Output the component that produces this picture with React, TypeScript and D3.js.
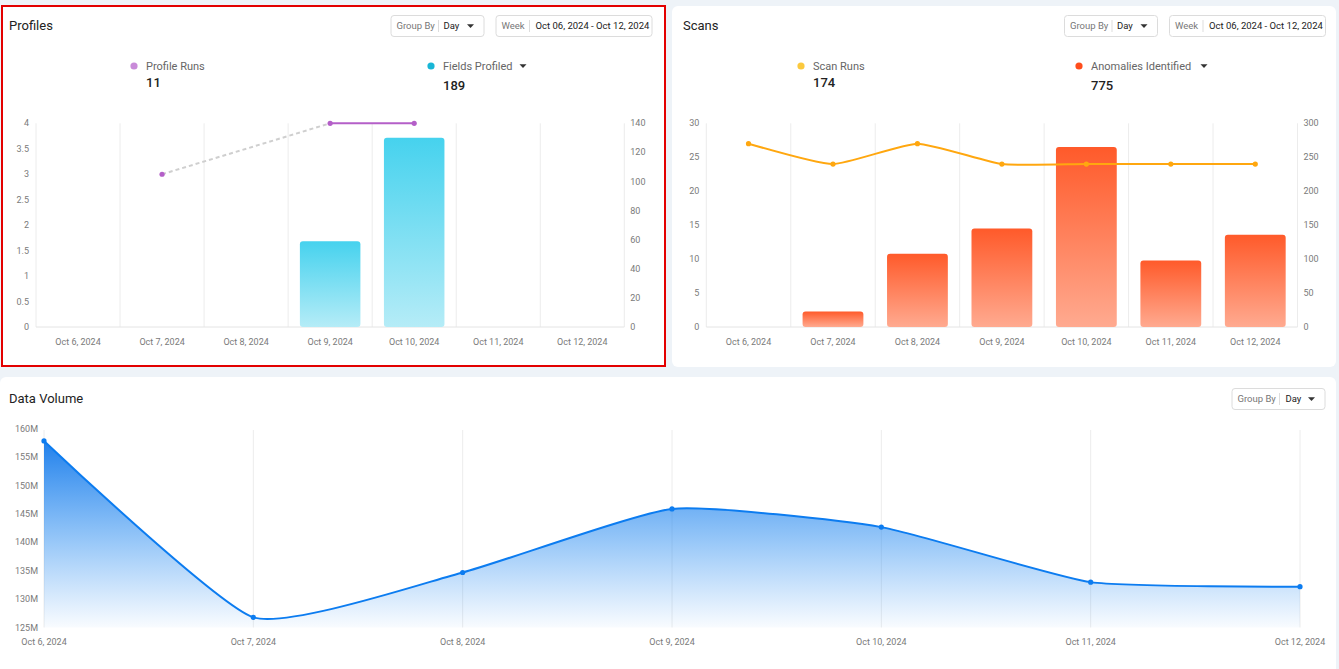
import React from "react";
import * as d3 from "d3";

const categories = ["Oct 6, 2024", "Oct 7, 2024", "Oct 8, 2024", "Oct 9, 2024", "Oct 10, 2024", "Oct 11, 2024", "Oct 12, 2024"];
const profileRuns: (number | null)[] = [null, 3, null, 4, 4, null, null];
const fieldsProfiled = [0, 0, 0, 59, 130, 0, 0];
const scanRuns = [27, 24, 27, 24, 24, 24, 24];
const anomalies = [0, 23, 108, 145, 265, 98, 136];
const dataVolumeM = [157.9, 126.8, 134.7, 145.9, 142.7, 133.0, 132.2];
const profilesTotals = { runs: "11", fields: "189" };
const scansTotals = { runs: "174", anomalies: "775" };
const weekLabel = "Oct 06, 2024 - Oct 12, 2024";

const FONT = "Roboto, 'Noto Sans', sans-serif";
const AXIS_COLOR = "#7a7a7a";
const GRID = "#ececec";

function Caret({ x, y }: { x: number; y: number }) {
  return <path d={`M${x - 3.5},${y - 1.8}L${x + 3.5},${y - 1.8}L${x},${y + 2}Z`} fill="#333" />;
}

function Controls({ x, y, week }: { x: number; y: number; week: boolean }) {
  return (
    <g transform={`translate(${x},${y})`}>
      <rect x={0.5} y={0.5} width={93} height={21} rx={3} fill="#fff" stroke="#dcdcdc" />
      <text x={6} y={14} fontSize={9.5} fill="#777">Group By</text>
      <line x1={48} x2={48} y1={5} y2={17} stroke="#ddd" />
      <text x={53} y={14} fontSize={9.5} fill="#222">Day</text>
      <Caret x={80} y={11} />
      {week && (
        <g transform="translate(105,0)">
          <rect x={0.5} y={0.5} width={156} height={21} rx={3} fill="#fff" stroke="#dcdcdc" />
          <text x={6} y={14} fontSize={9.5} fill="#777">Week</text>
          <line x1={34} x2={34} y1={5} y2={17} stroke="#ddd" />
          <text x={40} y={14} fontSize={9.5} fill="#222">{weekLabel}</text>
        </g>
      )}
    </g>
  );
}

function LegendItem({ x, label, value, color, caretX, valueY }: { x: number; label: string; value: string; color: string; caretX?: number; valueY: number }) {
  return (
    <g>
      <circle cx={x - 12} cy={66} r={3.6} fill={color} />
      <text x={x} y={70} fontSize={11} fill="#666">{label}</text>
      {caretX != null && <Caret x={caretX} y={66} />}
      <text x={x} y={valueY} fontSize={13} fill="#222" fontWeight={500}>{value}</text>
    </g>
  );
}

type ComboProps = {
  x0: number; x1: number; yTop: number; yBot: number;
  leftMax: number; leftStep: number; rightMax: number; rightStep: number;
  bars: number[]; gradId: string; gradTop: string; gradBot: string;
  line: (number | null)[]; lineColor: string; dotColor: string; dashGaps?: boolean;
};

function ComboChart(p: ComboProps) {
  const xs = d3.scaleBand<string>().domain(categories).range([p.x0, p.x1]).padding(0);
  const bw = xs.bandwidth();
  const yL = d3.scaleLinear().domain([0, p.leftMax]).range([p.yBot, p.yTop]);
  const yR = d3.scaleLinear().domain([0, p.rightMax]).range([p.yBot, p.yTop]);
  const leftTicks = d3.range(0, p.leftMax + 1e-9, p.leftStep);
  const rightTicks = d3.range(0, p.rightMax + 1e-9, p.rightStep);
  const cx = (i: number) => (xs(categories[i]) as number) + bw / 2;
  const barW = bw * 0.72;

  const pts = p.line.map((v, i) => ({ v, i })).filter((d) => d.v != null) as { v: number; i: number }[];
  const lineGen = d3.line<{ v: number; i: number }>().x((d) => cx(d.i)).y((d) => yL(d.v));
  const segs: JSX.Element[] = [];
  if (p.dashGaps) {
    for (let k = 0; k < pts.length - 1; k++) {
      const a = pts[k], b = pts[k + 1];
      const gap = b.i - a.i > 1;
      segs.push(
        <path key={k} d={lineGen([a, b]) as string} fill="none"
          stroke={gap ? "#cfcfcf" : p.lineColor} strokeWidth={2} strokeDasharray={gap ? "4 3" : undefined} />
      );
    }
  } else {
    const smooth = d3.line<{ v: number; i: number }>().x((d) => cx(d.i)).y((d) => yL(d.v)).curve(d3.curveCardinal.tension(0.5));
    segs.push(<path key="l" d={smooth(pts) as string} fill="none" stroke={p.lineColor} strokeWidth={2} />);
  }

  return (
    <g>
      <defs>
        <linearGradient id={p.gradId} x1="0" y1="0" x2="0" y2="1">
          <stop offset="0" stopColor={p.gradTop} />
          <stop offset="1" stopColor={p.gradBot} />
        </linearGradient>
      </defs>
      {categories.slice(1).map((c) => (
        <line key={c} x1={xs(c)} x2={xs(c)} y1={p.yTop} y2={p.yBot} stroke={GRID} />
      ))}
      <line x1={p.x0} x2={p.x0} y1={p.yTop} y2={p.yBot} stroke={GRID} />
      <line x1={p.x1} x2={p.x1} y1={p.yTop} y2={p.yBot} stroke={GRID} />
      <line x1={p.x0} x2={p.x1} y1={p.yBot} y2={p.yBot} stroke="#e4e4e4" />
      {leftTicks.map((t) => (
        <text key={"l" + t} x={p.x0 - 7} y={yL(t) + 3} fontSize={9} fill={AXIS_COLOR} textAnchor="end">{t}</text>
      ))}
      {rightTicks.map((t) => (
        <text key={"r" + t} x={p.x1 + 6} y={yR(t) + 3} fontSize={9} fill={AXIS_COLOR}>{t}</text>
      ))}
      {categories.map((c, i) => (
        <text key={c} x={cx(i)} y={345} fontSize={9} fill={AXIS_COLOR} textAnchor="middle">{c}</text>
      ))}
      {p.bars.map((v, i) =>
        v > 0 ? (
          <rect key={i} x={cx(i) - barW / 2} y={yR(v)} width={barW} height={p.yBot - yR(v)} rx={3}
            fill={`url(#${p.gradId})`} />
        ) : null
      )}
      {segs}
      {pts.map((d) => (
        <circle key={d.i} cx={cx(d.i)} cy={yL(d.v)} r={2.6} fill={p.dotColor} />
      ))}
    </g>
  );
}

function DataVolume() {
  const x = d3.scalePoint<string>().domain(categories).range([44, 1300]);
  const y = d3.scaleLinear().domain([125, 160]).range([627.5, 429]);
  const ticks = d3.range(125, 161, 5);
  const data = dataVolumeM.map((v, i) => ({ v, c: categories[i] }));
  const curve = d3.curveCardinal.tension(0.5);
  const line = d3.line<{ v: number; c: string }>().x((d) => x(d.c) as number).y((d) => y(d.v)).curve(curve);
  const area = d3.area<{ v: number; c: string }>().x((d) => x(d.c) as number).y0(y(125)).y1((d) => y(d.v)).curve(curve);
  return (
    <g>
      <defs>
        <linearGradient id="dvGrad" gradientUnits="userSpaceOnUse" x1="0" y1={y(158)} x2="0" y2={y(125)}>
          <stop offset="0" stopColor="#1479ea" stopOpacity={0.95} />
          <stop offset="0.55" stopColor="#1e86f0" stopOpacity={0.45} />
          <stop offset="1" stopColor="#2a8cf2" stopOpacity={0.03} />
        </linearGradient>
      </defs>
      {categories.map((c) => (
        <line key={c} x1={x(c)} x2={x(c)} y1={430} y2={627.5} stroke={GRID} />
      ))}
      {ticks.map((t) => (
        <text key={t} x={38} y={y(t) + 3} fontSize={9} fill={AXIS_COLOR} textAnchor="end">{t}M</text>
      ))}
      {categories.map((c) => (
        <text key={c} x={x(c)} y={645} fontSize={9} fill={AXIS_COLOR} textAnchor="middle">{c}</text>
      ))}
      <path d={area(data) as string} fill="url(#dvGrad)" />
      <path d={line(data) as string} fill="none" stroke="#0c7cf0" strokeWidth={2} />
      {data.map((d) => (
        <circle key={d.c} cx={x(d.c)} cy={y(d.v)} r={2.6} fill="#0c7cf0" />
      ))}
    </g>
  );
}

export default function App() {
  return (
    <div style={{ position: "absolute", left: 0, top: 0 }}>
      <svg width={1339} height={669} style={{ display: "block", fontFamily: FONT }}>
        <rect width={1339} height={669} fill="#eef3f8" />
        {/* Profiles panel */}
        <rect x={2} y={6} width={663} height={360} fill="#fff" stroke="#e30000" strokeWidth={2} />
        <text x={9} y={30} fontSize={13} fill="#222">Profiles</text>
        <Controls x={390.5} y={15} week={true} />
        <LegendItem x={146} label="Profile Runs" value={profilesTotals.runs} color="#c98bd9" valueY={87} />
        <LegendItem x={443} label="Fields Profiled" value={profilesTotals.fields} color="#18b6d6" caretX={523} valueY={90} />
        <ComboChart x0={36} x1={624.3} yTop={123.3} yBot={327} leftMax={4} leftStep={0.5} rightMax={140} rightStep={20}
          bars={fieldsProfiled} gradId="gBlue" gradTop="#46d2ee" gradBot="#b5ecf7"
          line={profileRuns} lineColor="#b45fc8" dotColor="#b45fc8" dashGaps />
        {/* Scans panel */}
        <rect x={672} y={6} width={664} height={361} rx={6} fill="#fff" />
        <text x={683} y={30} fontSize={13} fill="#222">Scans</text>
        <Controls x={1064} y={15} week={true} />
        <LegendItem x={813} label="Scan Runs" value={scansTotals.runs} color="#fbc93e" valueY={87} />
        <LegendItem x={1091} label="Anomalies Identified" value={scansTotals.anomalies} color="#ff4d1c" caretX={1204} valueY={90} />
        <ComboChart x0={706.3} x1={1297.5} yTop={123.3} yBot={327} leftMax={30} leftStep={5} rightMax={300} rightStep={50}
          bars={anomalies} gradId="gOrange" gradTop="#ff5a2a" gradBot="#ffaa90"
          line={scanRuns} lineColor="#ffa70f" dotColor="#ffa70f" />
        {/* Data volume panel */}
        <rect x={0} y={377} width={1336} height={300} rx={6} fill="#fff" />
        <text x={9} y={403} fontSize={13} fill="#222">Data Volume</text>
        <g transform="translate(1231.5,388)">
          <rect x={0.5} y={0.5} width={93} height={21} rx={3} fill="#fff" stroke="#dcdcdc" />
          <text x={6} y={14} fontSize={9.5} fill="#777">Group By</text>
          <line x1={48} x2={48} y1={5} y2={17} stroke="#ddd" />
          <text x={54} y={13.5} fontSize={9.5} fill="#222">Day</text>
          <Caret x={80} y={11} />
        </g>
        <DataVolume />
      </svg>
    </div>
  );
}
